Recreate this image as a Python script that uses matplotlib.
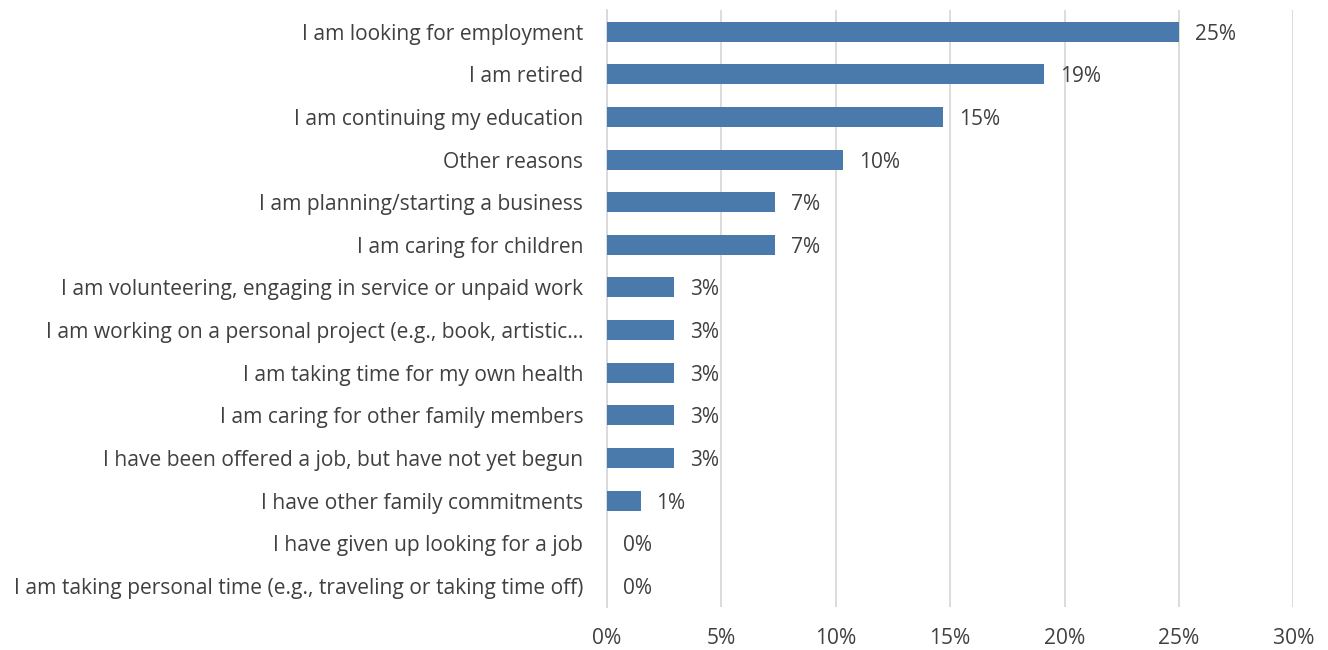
import matplotlib
matplotlib.use("Agg")
import matplotlib.pyplot as plt
from matplotlib.ticker import PercentFormatter

categories = [
    "I am looking for employment",
    "I am retired",
    "I am continuing my education",
    "Other reasons",
    "I am planning/starting a business",
    "I am caring for children",
    "I am volunteering, engaging in service or unpaid work",
    "I am working on a personal project (e.g., book, artistic\u2026",
    "I am taking time for my own health",
    "I am caring for other family members",
    "I have been offered a job, but have not yet begun",
    "I have other family commitments",
    "I have given up looking for a job",
    "I am taking personal time (e.g., traveling or taking time off)",
]
values = [25.0, 19.1, 14.7, 10.3, 7.35, 7.35, 2.94, 2.94, 2.94, 2.94, 2.94, 1.47, 0.0, 0.0]

bar_color = "#4a7aab"
text_color = "#404040"
grid_color = "#d9d9d9"

plt.rcParams['font.family'] = ['Open Sans', 'DejaVu Sans']

fig = plt.figure(figsize=(13.28, 6.5), dpi=100)
ax = fig.add_axes([0.457, 0.066, 0.517, 0.918])

y = list(range(len(categories)))
ax.barh(y, values, height=0.47, color=bar_color, zorder=3)
for yi, v in zip(y, values):
    ax.text(v + 0.7, yi, f"{round(v):.0f}%", va="center_baseline", ha="left",
            fontsize=15, color=text_color)

ax.set_ylim(len(categories) - 0.5, -0.5)
ax.set_xlim(0, 30)
ax.set_xticks([0, 5, 10, 15, 20, 25, 30])
ax.xaxis.set_major_formatter(PercentFormatter(decimals=0))
ax.set_yticks(y)
ax.set_yticklabels(categories)
ax.tick_params(axis="both", length=0, labelsize=15.1, labelcolor=text_color)
ax.tick_params(axis="y", pad=17)
ax.tick_params(axis="x", pad=15)
ax.grid(axis="x", color=grid_color, linewidth=1.3, zorder=0)
for s in ["top", "right", "bottom"]:
    ax.spines[s].set_visible(False)
ax.spines["left"].set_color(grid_color)
ax.spines["left"].set_linewidth(1.3)

fig.savefig("out.png", dpi=100)
